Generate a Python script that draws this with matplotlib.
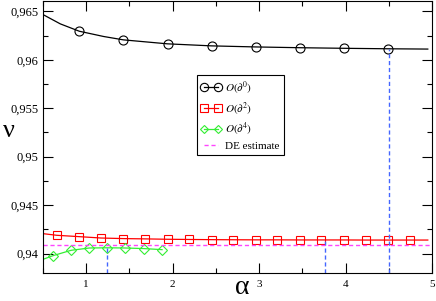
import matplotlib
matplotlib.use("Agg")
import matplotlib.pyplot as plt
from matplotlib.ticker import MultipleLocator, FuncFormatter

plt.rcParams['font.family'] = ['Liberation Serif', 'DejaVu Serif']
plt.rcParams['mathtext.fontset'] = 'stix'

# O(d^0) markers and fitted curve
a0 = [0.92, 1.43, 1.94, 2.45, 2.96, 3.47, 3.98, 4.49]
nu0 = [0.96294, 0.96205, 0.96164, 0.96143, 0.96136, 0.96123, 0.96122, 0.96112]
a0_fit = [0.5, 0.7, 0.92, 1.2, 1.43, 1.94, 2.45, 2.96, 3.47, 3.98, 4.49, 4.95]
nu0_fit = [0.96466, 0.96370, 0.96294, 0.96240, 0.96205, 0.96164, 0.96143, 0.96132,
           0.96124, 0.96118, 0.96113, 0.96110]

# O(d^2)
a2 = [0.66, 0.92, 1.17, 1.43, 1.68, 1.94, 2.19, 2.45, 2.70, 2.96, 3.21, 3.47,
      3.72, 3.98, 4.23, 4.49, 4.74]
nu2 = [0.94189, 0.94175, 0.94161, 0.94155, 0.94152, 0.94148, 0.94146, 0.94144,
       0.94143, 0.94142, 0.94142, 0.94141, 0.94141, 0.94141, 0.94140, 0.94140, 0.94140]
a2_fit = [0.5] + a2 + [4.95]
nu2_fit = [0.94206] + nu2 + [0.94140]

# O(d^4)
a4 = [0.62, 0.824, 1.036, 1.244, 1.45, 1.665, 1.877]
nu4 = [0.93980, 0.94034, 0.94058, 0.94060, 0.94058, 0.94052, 0.94041]
a4_fit = [0.5] + a4
nu4_fit = [0.93941] + nu4

de_estimate = 0.94086
# optimal alpha markers (x, top y)
opt_alpha = [1.244, 3.756, 4.497]
opt_nu = [0.94060, 0.94141, 0.96112]

green = '#33ee33'
fig = plt.figure(figsize=(4.36, 3.01), dpi=100)
ax = fig.add_axes([0.0986, 0.093, 0.8925, 0.905])

ax.plot(a0_fit, nu0_fit, color='black', lw=0.9)
ax.plot(a2_fit, nu2_fit, color='red', lw=0.9)
ax.plot(a4_fit, nu4_fit, color=green, lw=0.9)

ax.plot(a0, nu0, 'o', ms=6.5, mfc='none', mec='black', mew=0.8)
ax.plot(a2, nu2, 's', ms=6, mfc='none', mec='red', mew=0.8)
ax.plot(a4, nu4, 'D', ms=5, mfc='none', mec=green, mew=0.8)

for xa, ya in zip(opt_alpha, opt_nu):
    ax.plot([xa, xa], [0.938, ya], color='#4466ff', ls=(0, (3, 2)), lw=1.0)
ax.axhline(de_estimate, color='#ff44ff', ls=(0, (3, 2)), lw=1.0)

# legend proxies
h0, = ax.plot([], [], 'o-', color='black', ms=6, mfc='none', mew=0.8, lw=0.9)
h2, = ax.plot([], [], 's-', color='red', ms=5.5, mfc='none', mew=0.8, lw=0.9)
h4, = ax.plot([], [], 'D-', color=green, ms=4.5, mfc='none', mew=0.8, lw=0.9)
hde, = ax.plot([], [], color='#ff44ff', ls=(0, (3, 2)), lw=1.0)
leg = ax.legend([h0, h2, h4, hde],
                [r'$O(\partial^0)$', r'$O(\partial^2)$', r'$O(\partial^4)$', 'DE estimate'],
                loc='upper left', bbox_to_anchor=(0.396, 0.727), borderaxespad=0,
                numpoints=2, fontsize=8, fancybox=False, framealpha=1,
                edgecolor='black', handlelength=1.8, handletextpad=0.4,
                borderpad=0.35, labelspacing=0.35)
leg.get_frame().set_linewidth(0.8)

ax.set_xlim(0.5, 5)
ax.set_ylim(0.938, 0.9661)
ax.xaxis.set_major_locator(MultipleLocator(1))
ax.xaxis.set_minor_locator(MultipleLocator(0.5))
ax.yaxis.set_major_locator(MultipleLocator(0.005))
ax.yaxis.set_minor_locator(MultipleLocator(0.0025))

def comma(v, pos):
    s = ('%.3f' % v).rstrip('0').rstrip('.')
    return s.replace('.', ',')

ax.yaxis.set_major_formatter(FuncFormatter(comma))
ax.tick_params(which='both', direction='in', top=True, right=True, width=0.8)
ax.tick_params(which='major', length=7)
ax.tick_params(which='minor', length=3.5)
ax.tick_params(axis='y', labelsize=9)
ax.tick_params(axis='x', labelsize=8, pad=5)
for s in ax.spines.values():
    s.set_linewidth(0.8)

fig.text(0.555, 0.003, 'α', fontsize=20, ha='center', va='bottom')
fig.text(0.006, 0.565, 'ν', fontsize=19, ha='left', va='center')

fig.savefig('out.png', dpi=100)
